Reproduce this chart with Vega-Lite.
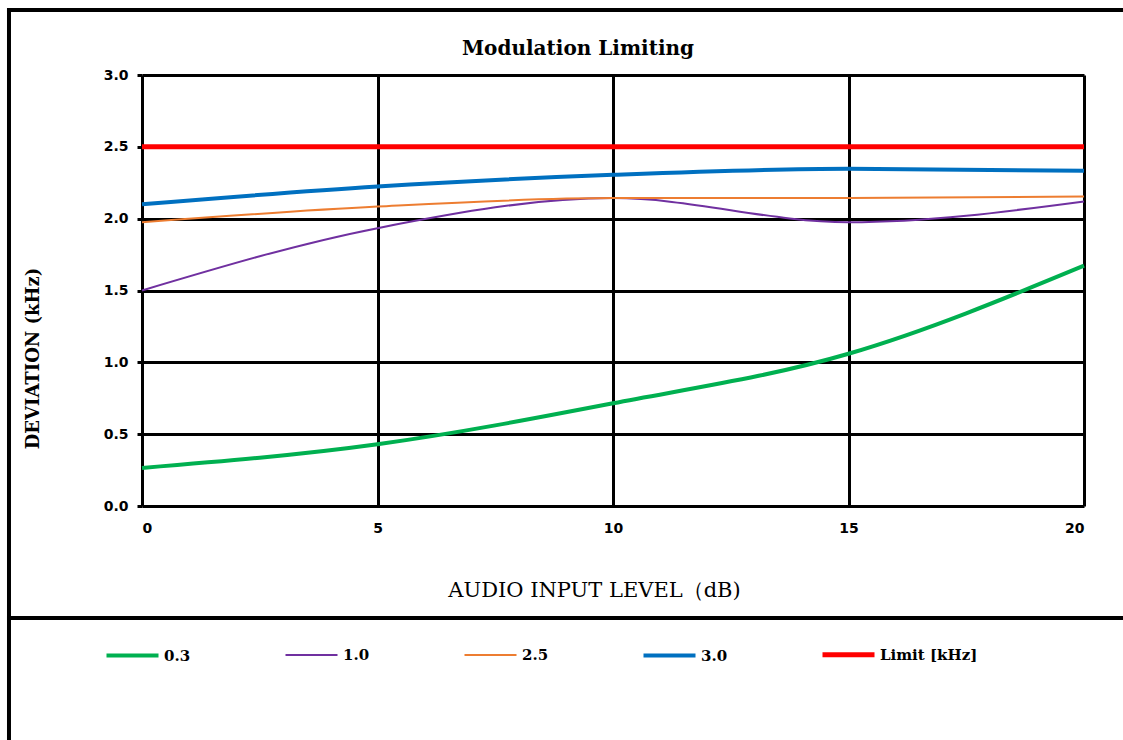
{
  "$schema": "https://vega.github.io/schema/vega-lite/v6.json",
  "autosize": "none",
  "width": 942,
  "height": 431,
  "padding": {"left": 142, "top": 75, "right": 39, "bottom": 234},
  "background": "white",
  "config": {
    "view": {"stroke": null},
    "axis": {
      "labelFont": "DejaVu Sans",
      "labelFontWeight": "bold",
      "labelFontSize": 14,
      "labelColor": "black",
      "gridColor": "black",
      "gridWidth": 3,
      "gridOpacity": 1,
      "domain": false
    }
  },
  "title": {
    "text": "Modulation Limiting",
    "font": "DejaVu Serif",
    "fontWeight": "bold",
    "fontSize": 20,
    "color": "black",
    "anchor": "middle",
    "frame": "group",
    "dx": -35,
    "dy": 70,
    "offset": 18
  },
  "datasets": {
    "series": [
      {"series": "0.3", "level": 0, "dev": 0.265},
      {"series": "0.3", "level": 5, "dev": 0.43},
      {"series": "0.3", "level": 10, "dev": 0.715},
      {"series": "0.3", "level": 15, "dev": 1.06},
      {"series": "0.3", "level": 20, "dev": 1.673},
      {"series": "1.0", "level": 0, "dev": 1.5},
      {"series": "1.0", "level": 5, "dev": 1.934},
      {"series": "1.0", "level": 10, "dev": 2.143},
      {"series": "1.0", "level": 15, "dev": 1.975},
      {"series": "1.0", "level": 20, "dev": 2.12},
      {"series": "2.5", "level": 0, "dev": 1.975},
      {"series": "2.5", "level": 5, "dev": 2.084},
      {"series": "2.5", "level": 10, "dev": 2.143},
      {"series": "2.5", "level": 15, "dev": 2.143},
      {"series": "2.5", "level": 20, "dev": 2.154},
      {"series": "3.0", "level": 0, "dev": 2.1},
      {"series": "3.0", "level": 5, "dev": 2.224},
      {"series": "3.0", "level": 10, "dev": 2.305},
      {"series": "3.0", "level": 15, "dev": 2.347},
      {"series": "3.0", "level": 20, "dev": 2.333},
      {"series": "Limit [kHz]", "level": 0, "dev": 2.5},
      {"series": "Limit [kHz]", "level": 5, "dev": 2.5},
      {"series": "Limit [kHz]", "level": 10, "dev": 2.5},
      {"series": "Limit [kHz]", "level": 15, "dev": 2.5},
      {"series": "Limit [kHz]", "level": 20, "dev": 2.5}
    ],
    "frame": [
      {"level": -2.824, "level2": 21, "dev": 3.452, "dev2": 3.452},
      {"level": -2.824, "level2": 21, "dev": -0.78, "dev2": -0.78},
      {"level": -2.824, "level2": -2.824, "dev": 3.452, "dev2": -1.75}
    ]
  },
  "layer": [
    {
      "data": {"name": "frame"},
      "mark": {"type": "rule", "color": "black", "strokeWidth": 4, "strokeCap": "square"},
      "encoding": {
        "x": {"field": "level", "type": "quantitative", "scale": {"domain": [0, 20], "nice": false, "zero": false}},
        "x2": {"field": "level2"},
        "y": {"field": "dev", "type": "quantitative", "scale": {"domain": [0, 3], "nice": false, "zero": false}},
        "y2": {"field": "dev2"}
      }
    },
    {
      "data": {"name": "series"},
      "mark": {"type": "line", "interpolate": "monotone"},
      "encoding": {
        "x": {
          "field": "level", "type": "quantitative",
          "scale": {"domain": [0, 20], "nice": false, "zero": false},
          "axis": {
            "values": [0, 5, 10, 15, 20],
            "ticks": false,
            "labelPadding": 15,
            "title": "AUDIO INPUT LEVEL（dB)",
            "titleFont": "DejaVu Serif",
            "titleFontWeight": "normal",
            "titleFontSize": 21,
            "titleColor": "black",
            "titleX": 452,
            "titleY": 84,
            "titleAlign": "center",
            "titleBaseline": "middle"
          }
        },
        "y": {
          "field": "dev", "type": "quantitative",
          "scale": {"domain": [0, 3], "nice": false, "zero": false},
          "axis": {
            "values": [0, 0.5, 1, 1.5, 2, 2.5, 3],
            "format": ".1f",
            "ticks": true,
            "tickSize": 5,
            "tickWidth": 3,
            "tickColor": "black",
            "labelPadding": 9,
            "title": "DEVIATION (kHz)",
            "titleFont": "DejaVu Serif",
            "titleFontWeight": "bold",
            "titleFontSize": 18,
            "titleColor": "black",
            "titleAngle": -90,
            "titleX": -109,
            "titleY": 283,
            "titleAlign": "center",
            "titleBaseline": "middle"
          }
        },
        "color": {
          "field": "series", "type": "nominal",
          "scale": {
            "domain": ["0.3", "1.0", "2.5", "3.0", "Limit [kHz]"],
            "range": ["#00B050", "#7030A0", "#ED7D31", "#0070C0", "#FF0000"]
          },
          "legend": {
            "title": null,
            "orient": "none",
            "legendX": -38,
            "legendY": 551,
            "direction": "horizontal",
            "columns": 5,
            "gridAlign": "all",
            "columnPadding": 13,
            "symbolType": "stroke",
            "symbolSize": 2704,
            "labelFont": "DejaVu Serif",
            "labelFontWeight": "bold",
            "labelFontSize": 15,
            "labelColor": "black",
            "labelOffset": 3
          }
        },
        "strokeWidth": {
          "field": "series", "type": "nominal",
          "scale": {
            "type": "ordinal",
            "domain": ["0.3", "1.0", "2.5", "3.0", "Limit [kHz]"],
            "range": [4, 2, 2, 4, 5]
          },
          "legend": {
            "title": null,
            "orient": "none",
            "legendX": -38,
            "legendY": 551,
            "direction": "horizontal",
            "columns": 5,
            "gridAlign": "all",
            "columnPadding": 13,
            "symbolType": "stroke",
            "symbolSize": 2704,
            "labelFont": "DejaVu Serif",
            "labelFontWeight": "bold",
            "labelFontSize": 15,
            "labelColor": "black",
            "labelOffset": 3
          }
        }
      }
    }
  ]
}
